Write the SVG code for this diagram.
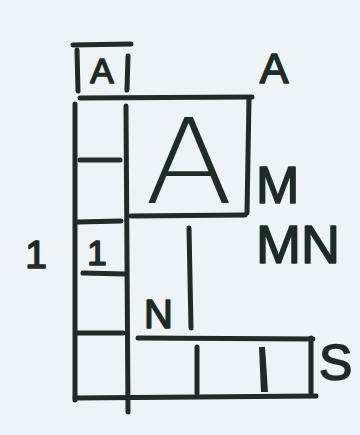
<svg xmlns="http://www.w3.org/2000/svg" width="360" height="435" viewBox="0 0 360 435">
<style>
.ln{stroke:#1e2b27;stroke-width:5;stroke-linecap:round;fill:none}
.t{fill:#1e2b27;stroke:#1e2b27;stroke-width:1.6;stroke-linejoin:round;font-family:"Liberation Sans",Arial,sans-serif}
.big{fill:#1e2b27;font-family:"DejaVu Sans","Liberation Sans",sans-serif;font-weight:200}
</style>
<rect width="360" height="435" fill="#eef3f8"/>
<g id="grid">
<path class="ln" d="M73 45 L131 44"/>
<path class="ln" d="M77 50 L78 91"/>
<path class="ln" d="M128 56 L127 90"/>
<path class="ln" d="M80 98 L252 97"/>
<path class="ln" d="M249 99 L247 213"/>
<path class="ln" d="M75 104 L75 400"/>
<path class="ln" d="M126 106 L128 412"/>
<path class="ln" d="M80 160 L120 160"/>
<path class="ln" d="M131 216 L245 215"/>
<path class="ln" d="M78 222 L121 221"/>
<path class="ln" d="M83 273 L125 274"/>
<path class="ln" d="M78 333 L123 333"/>
<path class="ln" d="M189 228 L191 328"/>
<path class="ln" d="M138 338 L313 339"/>
<path class="ln" d="M311 338 L311 393"/>
<path class="ln" d="M75 398 L316 396"/>
<path class="ln" d="M197 347 L197 393"/>
<polygon points="259,347 265,347 268,392 261,392" fill="#1e2b27"/>
</g>
<g id="labels">
<text class="t" x="102" y="83" font-size="35" text-anchor="middle">A</text>
<text class="t" x="274" y="83" font-size="43" text-anchor="middle">A</text>
<text class="t" x="256" y="203" font-size="52">M</text>
<text class="t" x="256" y="263" font-size="54">MN</text>
<text class="t" x="36" y="268" font-size="39" text-anchor="middle">1</text>
<text class="t" x="97" y="265" font-size="35" text-anchor="middle">1</text>
<text class="t" x="144" y="328" font-size="40">N</text>
<text class="t" x="319" y="380" font-size="50">S</text>
<text class="big" transform="translate(189,203) scale(1.1,1)" font-size="118" text-anchor="middle">A</text>
</g>
</svg>
